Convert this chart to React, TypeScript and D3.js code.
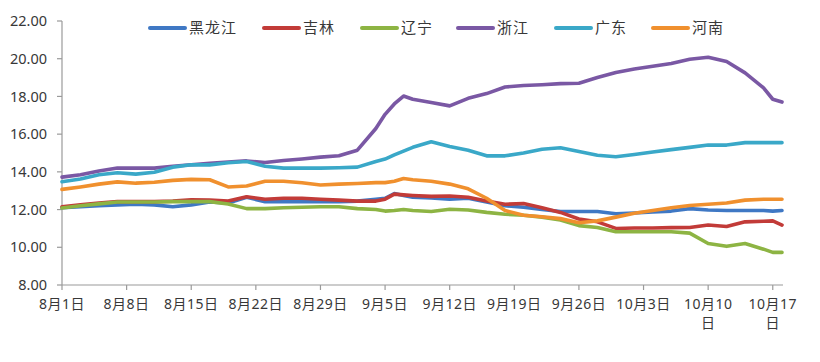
import React from 'react';
import * as d3 from 'd3';

// day offsets from Aug 1 (every 2 days, a few extra days around the 9/5 jump)
const dayOffsets = [0, 2, 4, 6, 8, 10, 12, 14, 16, 18, 20, 22, 24, 26, 28, 30, 32, 34, 35, 36, 37, 38, 40, 42, 44, 46, 48, 50, 52, 54, 56, 58, 60, 62, 64, 66, 68, 70, 72, 74, 76, 77, 78];

const heilongjiang = [12.1, 12.15, 12.2, 12.25, 12.28, 12.25, 12.15, 12.25, 12.4, 12.35, 12.65, 12.42, 12.42, 12.42, 12.42, 12.42, 12.45, 12.55, 12.6, 12.85, 12.75, 12.65, 12.62, 12.55, 12.6, 12.4, 12.2, 12.12, 12.0, 11.9, 11.9, 11.9, 11.78, 11.82, 11.88, 11.92, 12.05, 11.98, 11.95, 11.95, 11.95, 11.92, 11.95];
const jilin = [12.15, 12.25, 12.35, 12.42, 12.42, 12.42, 12.45, 12.52, 12.5, 12.45, 12.68, 12.55, 12.6, 12.6, 12.55, 12.5, 12.45, 12.45, 12.55, 12.82, 12.78, 12.75, 12.7, 12.72, 12.65, 12.45, 12.28, 12.32, 12.1, 11.85, 11.5, 11.35, 11.0, 11.02, 11.02, 11.04, 11.05, 11.18, 11.1, 11.35, 11.38, 11.4, 11.18];
const liaoning = [12.08, 12.2, 12.3, 12.4, 12.4, 12.4, 12.42, 12.42, 12.42, 12.3, 12.05, 12.05, 12.1, 12.12, 12.15, 12.15, 12.05, 12.0, 11.92, 11.95, 12.0, 11.95, 11.9, 12.02, 11.98, 11.85, 11.75, 11.7, 11.6, 11.45, 11.15, 11.05, 10.82, 10.82, 10.82, 10.82, 10.75, 10.2, 10.05, 10.2, 9.9, 9.73, 9.73];
const zhejiang = [13.72, 13.85, 14.05, 14.2, 14.2, 14.2, 14.3, 14.38, 14.45, 14.52, 14.58, 14.5, 14.6, 14.68, 14.78, 14.85, 15.15, 16.3, 17.05, 17.6, 18.02, 17.85, 17.68, 17.5, 17.9, 18.15, 18.5, 18.58, 18.62, 18.68, 18.7, 19.0, 19.27, 19.45, 19.6, 19.75, 19.97, 20.08, 19.85, 19.25, 18.45, 17.85, 17.7];
const guangdong = [13.48, 13.62, 13.85, 13.95, 13.88, 13.98, 14.25, 14.38, 14.37, 14.48, 14.55, 14.3, 14.2, 14.2, 14.2, 14.22, 14.25, 14.55, 14.68, 14.9, 15.1, 15.3, 15.6, 15.35, 15.15, 14.85, 14.85, 15.0, 15.2, 15.28, 15.08, 14.88, 14.8, 14.92, 15.05, 15.18, 15.3, 15.42, 15.42, 15.55, 15.55, 15.55, 15.55];
const henan = [13.07, 13.2, 13.35, 13.47, 13.4, 13.45, 13.55, 13.6, 13.58, 13.2, 13.25, 13.5, 13.5, 13.42, 13.3, 13.35, 13.38, 13.43, 13.43, 13.5, 13.65, 13.58, 13.5, 13.35, 13.1, 12.6, 11.95, 11.7, 11.62, 11.52, 11.3, 11.4, 11.6, 11.8, 11.95, 12.1, 12.22, 12.28, 12.35, 12.5, 12.55, 12.55, 12.55];

const seriesNames = ['黑龙江', '吉林', '辽宁', '浙江', '广东', '河南'];
const seriesColors = ['#3f78c4', '#c23b38', '#8db443', '#7a58a4', '#3aa8c8', '#f0902e'];
const seriesValues = [heilongjiang, jilin, liaoning, zhejiang, guangdong, henan];

const yTicks = [8, 10, 12, 14, 16, 18, 20, 22];
const xTickLabels = ['8月1日', '8月8日', '8月15日', '8月22日', '8月29日', '9月5日', '9月12日', '9月19日', '9月26日', '10月3日', '10月10日', '10月17日'];

const startDate = new Date(2016, 7, 1);
const endDate = new Date(2016, 9, 18);

const FONT = "'Noto Sans', 'Noto Sans CJK SC', sans-serif";

export default function App() {
  const width = 820;
  const height = 362;
  const left = 62;
  const right = 782;
  const top = 21;
  const bottom = 285;

  const x = d3.scaleTime().domain([startDate, endDate]).range([left, right]);
  const y = d3.scaleLinear().domain([8, 22]).range([bottom, top]);

  const dates = dayOffsets.map((d) => d3.timeDay.offset(startDate, d));
  // weekly ticks starting at Aug 1
  const tickDates = xTickLabels.map((_, i) => d3.timeDay.offset(startDate, i * 7));

  const line = d3
    .line<number>()
    .x((_, i) => x(dates[i]))
    .y((v) => y(v));

  const legendX = [150, 264, 362, 458, 556, 653];

  return (
    <svg width={width} height={height} style={{ position: 'absolute', left: 0, top: 0, background: '#fff' }} fontFamily={FONT}>
      {/* y axis */}
      <line x1={left} x2={left} y1={top} y2={bottom} stroke="#9a9a9a" strokeWidth={1.2} />
      {yTicks.map((t) => (
        <g key={t}>
          <line x1={left - 5} x2={left} y1={y(t)} y2={y(t)} stroke="#9a9a9a" strokeWidth={1.2} />
          <text x={47} y={y(t)} dy="0.35em" textAnchor="end" fontSize={14.5} fill="#383838">
            {t.toFixed(2)}
          </text>
        </g>
      ))}

      {/* x axis */}
      <line x1={left} x2={right + 1} y1={bottom} y2={bottom} stroke="#9a9a9a" strokeWidth={1.2} />
      {tickDates.map((d, i) => {
        const label = xTickLabels[i];
        const lines = label.length > 5 ? [label.slice(0, -1), label.slice(-1)] : [label];
        return (
          <g key={i}>
            <line x1={x(d)} x2={x(d)} y1={bottom} y2={bottom + 5} stroke="#9a9a9a" strokeWidth={1.2} />
            {lines.map((l, j) => (
              <text key={j} x={x(d)} y={304 + j * 19} dy="0.35em" textAnchor="middle" fontSize={14} fill="#383838" letterSpacing={0.5}>
                {l}
              </text>
            ))}
          </g>
        );
      })}

      {/* series */}
      {seriesValues.map((vals, i) => (
        <path
          key={seriesNames[i]}
          d={line(vals) || ''}
          fill="none"
          stroke={seriesColors[i]}
          strokeWidth={3.6}
          strokeLinejoin="round"
          strokeLinecap="round"
        />
      ))}

      {/* legend */}
      {seriesNames.map((name, i) => (
        <g key={name} transform={`translate(${legendX[i]},28)`}>
          <line x1={0} x2={35} y1={0} y2={0} stroke={seriesColors[i]} strokeWidth={4} strokeLinecap="round" />
          <text x={39} y={0} dy="0.35em" fontSize={15} fill="#383838" letterSpacing={1}>
            {name}
          </text>
        </g>
      ))}
    </svg>
  );
}
